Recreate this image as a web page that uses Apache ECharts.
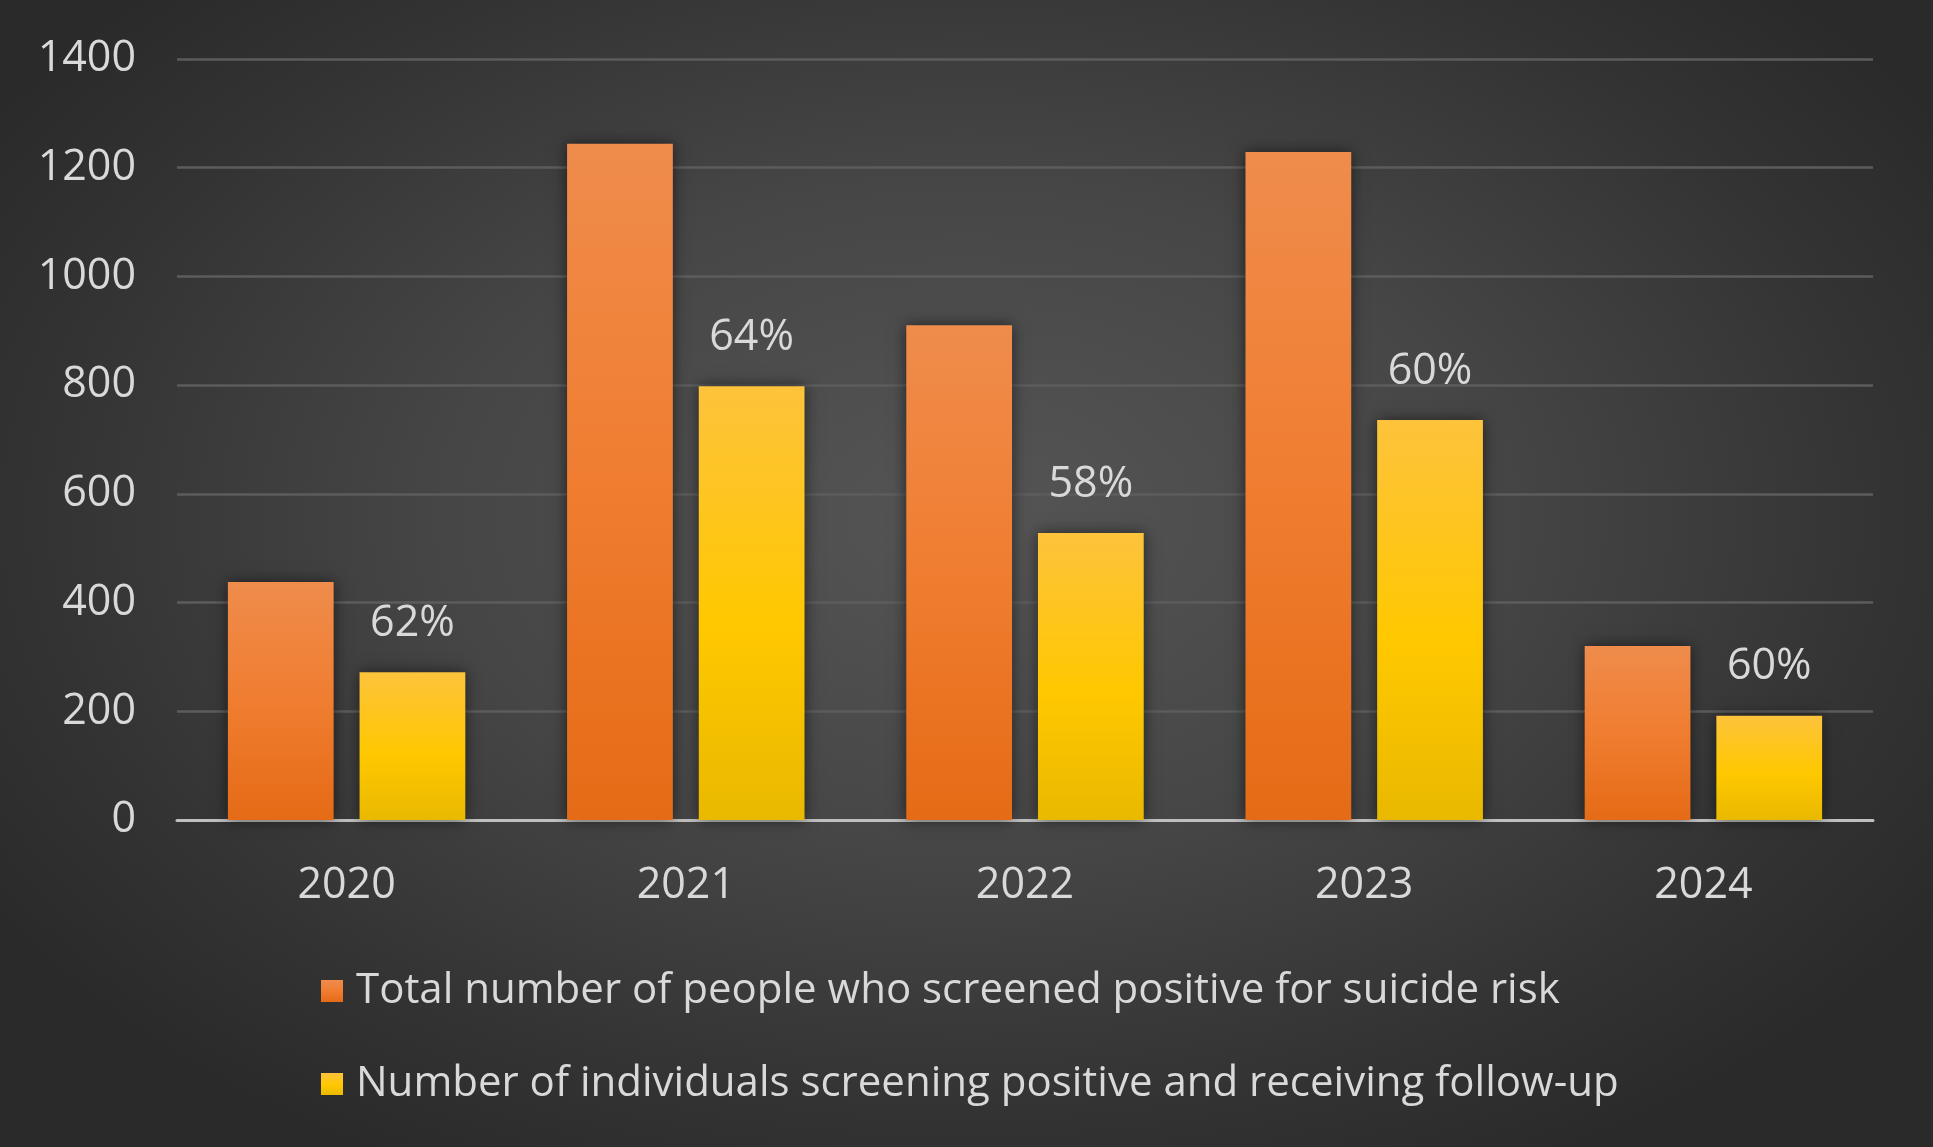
<!DOCTYPE html>
<html>
<head>
<meta charset="utf-8">
<script src="https://cdn.jsdelivr.net/npm/echarts@6/dist/echarts.min.js"></script>
<style>
  html, body { margin: 0; padding: 0; }
  #chart {
    width: 1933px; height: 1147px;
    background: radial-gradient(ellipse 60% 65% at 50% 45%, #555555 0%, #464646 45%, #333333 80%, #2a2a2a 100%);
  }
</style>
</head>
<body>
<div id="chart"></div>
<script>
// Suicide-risk screening by year
const years = ['2020', '2021', '2022', '2023', '2024'];
const screenedPositive = [438, 1244, 910, 1229, 320];
const receivedFollowUp = [272, 798, 528, 736, 192];
const followUpRate = ['62%', '64%', '58%', '60%', '60%'];
const yTicks = [0, 200, 400, 600, 800, 1000, 1200, 1400];

const seriesNames = [
  'Total number of people who screened positive for suicide risk',
  'Number of individuals screening positive and receiving follow-up'
];

const FONT = '"Open Sans", sans-serif';
const TEXT = '#d9d9d9';

function vgrad(stops) {
  return new echarts.graphic.LinearGradient(0, 0, 0, 1,
    stops.map(s => ({ offset: s[0], color: s[1] })));
}

const orangeFill = vgrad([[0, '#ef8c4c'], [0.5, '#f07d30'], [1, '#e56b16']]);
const yellowFill = vgrad([[0, '#fdc33c'], [0.55, '#ffc800'], [1, '#e9b900']]);

const chart = echarts.init(document.getElementById('chart'), null, { renderer: 'canvas' });

chart.setOption({
  backgroundColor: 'transparent',
  animation: false,
  textStyle: { fontFamily: FONT },
  grid: { left: 177, right: 60, top: 59, bottom: 327, containLabel: false },
  legend: {
    orient: 'vertical',
    left: 316,
    top: 965,
    itemWidth: 22,
    itemHeight: 22,
    itemGap: 51,
    icon: 'rect',
    textStyle: { color: TEXT, fontSize: 42, fontFamily: FONT, padding: [0, 0, 0, 8] },
    data: seriesNames
  },
  xAxis: {
    type: 'category',
    data: years,
    axisLine: { show: true, lineStyle: { color: '#bfbfbf', width: 3 } },
    axisTick: { show: false },
    axisLabel: { color: TEXT, fontSize: 43, fontFamily: FONT, margin: 44 }
  },
  yAxis: {
    type: 'value',
    min: yTicks[0],
    max: yTicks[yTicks.length - 1],
    interval: yTicks[1] - yTicks[0],
    axisLine: { show: false },
    axisTick: { show: false },
    splitLine: { lineStyle: { color: '#5c5c5c', width: 2.5 } },
    axisLabel: {
      color: TEXT, fontSize: 43, fontFamily: FONT, margin: 41,
      formatter: v => String(v)
    }
  },
  series: [
    {
      name: seriesNames[0],
      type: 'bar',
      data: screenedPositive,
      barGap: '24.5%',
      barCategoryGap: '30%',
      itemStyle: {
        color: orangeFill,
        shadowColor: 'rgba(0,0,0,0.55)',
        shadowBlur: 14
      }
    },
    {
      name: seriesNames[1],
      type: 'bar',
      data: receivedFollowUp,
      itemStyle: {
        color: yellowFill,
        shadowColor: 'rgba(0,0,0,0.55)',
        shadowBlur: 14
      },
      label: {
        show: true,
        position: 'top',
        distance: 27,
        color: TEXT,
        fontSize: 43,
        fontFamily: FONT,
        formatter: p => followUpRate[p.dataIndex]
      }
    }
  ]
});
</script>
</body>
</html>
